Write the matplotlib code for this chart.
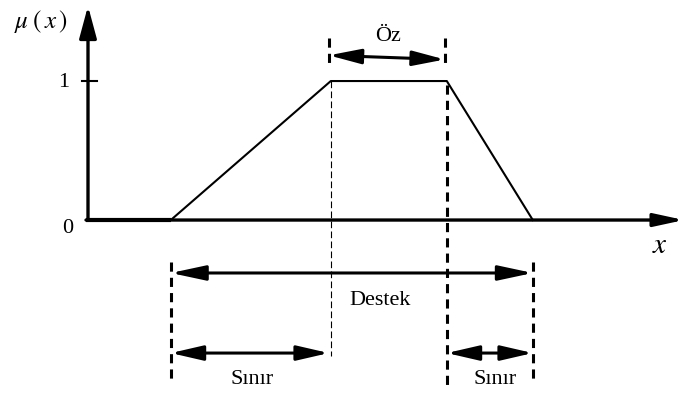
import matplotlib
matplotlib.use("Agg")
import matplotlib.pyplot as plt

plt.rcParams['mathtext.fontset'] = 'stix'
plt.rcParams['font.family'] = ['Liberation Serif', 'DejaVu Serif']

# trapezoid membership function (x positions, membership values)
trap_x = [2.07, 6.07, 8.97, 11.12]
trap_mu = [0.0, 1.0, 1.0, 0.0]
tick_labels = ["0", "1"]
labels = {"core": "Öz", "support": "Destek", "boundary": "Sınır"}

fig = plt.figure(figsize=(6.85, 3.96), dpi=100)
ax = fig.add_axes([0, 0, 1, 1])
ax.set_xlim(-2.2, 14.925)
ax.set_ylim(-1.266, 1.583)
ax.axis('off')

a, b, c, d = trap_x

def arrow(x0, y0, x1, y1, style, lw=2.2, hl=1.3, hw=0.3, ms=15):
    ax.annotate('', xy=(x1, y1), xytext=(x0, y0), annotation_clip=False,
                arrowprops=dict(arrowstyle=f'{style},head_length={hl},head_width={hw}',
                                lw=lw, color='black', shrinkA=0, shrinkB=0,
                                mutation_scale=ms))

# axes
arrow(0, 0, 0, 1.54, '-|>', lw=2.4, hl=1.3, hw=0.35)
arrow(-0.05, 0, 14.9, 0, '-|>', lw=2.4, hl=1.2, hw=0.26)
ax.plot([-0.05, a], [0, 0], color='black', lw=3.0, solid_capstyle='butt')
# tick at 1
ax.plot([-0.15, 0.22], [1, 1], color='black', lw=1.5)

# membership function
ax.plot(trap_x, trap_mu, color='black', lw=1.5)

# dashed guide lines
ax.plot([b, b], [1.0, -0.978], color='black', lw=0.8, ls=(0, (6, 3)))
ax.plot([c, c], [0.97, -1.187], color='black', lw=2.2, ls=(0, (3, 2)))
ax.plot([a, a], [-0.30, -1.17], color='black', lw=2.2, ls=(0, (3, 2)))
ax.plot([d, d], [-0.30, -1.17], color='black', lw=2.2, ls=(0, (3, 2)))
ax.plot([b - 0.05, b - 0.05], [1.31, 1.115], color='black', lw=2.2, ls=(0, (3, 2)))
ax.plot([c - 0.05, c - 0.05], [1.31, 1.115], color='black', lw=2.2, ls=(0, (3, 2)))

# dimension arrows
arrow(b - 0.05, 1.185, c - 0.05, 1.155, '<|-|>', lw=2.2, hl=1.3, hw=0.3)
arrow(a, -0.381, d, -0.381, '<|-|>', lw=2.2, hl=1.4, hw=0.3)
arrow(a, -0.957, b - 0.05, -0.957, '<|-|>', lw=2.2, hl=1.3, hw=0.3)
arrow(c, -0.957, d, -0.957, '<|-|>', lw=2.2, hl=1.3, hw=0.3)

# texts
ax.text(-1.175, 1.43, r'$\mu\;(\,x\,)$', fontsize=18, ha='center', va='center')
ax.text(-0.6, 0.99, tick_labels[1], fontsize=16, ha='center', va='center')
ax.text(-0.51, -0.06, tick_labels[0], fontsize=16, ha='center', va='center')
ax.text(14.3, -0.19, r'$x$', fontsize=21, ha='center', va='center')
ax.text(7.5, 1.32, labels["core"], fontsize=16, ha='center', va='center')
ax.text(7.3, -0.58, labels["support"], fontsize=16, ha='center', va='center')
ax.text(4.1, -1.15, labels["boundary"], fontsize=16, ha='center', va='center')
ax.text(10.18, -1.15, labels["boundary"], fontsize=16, ha='center', va='center')

fig.savefig('out.png', dpi=100)
